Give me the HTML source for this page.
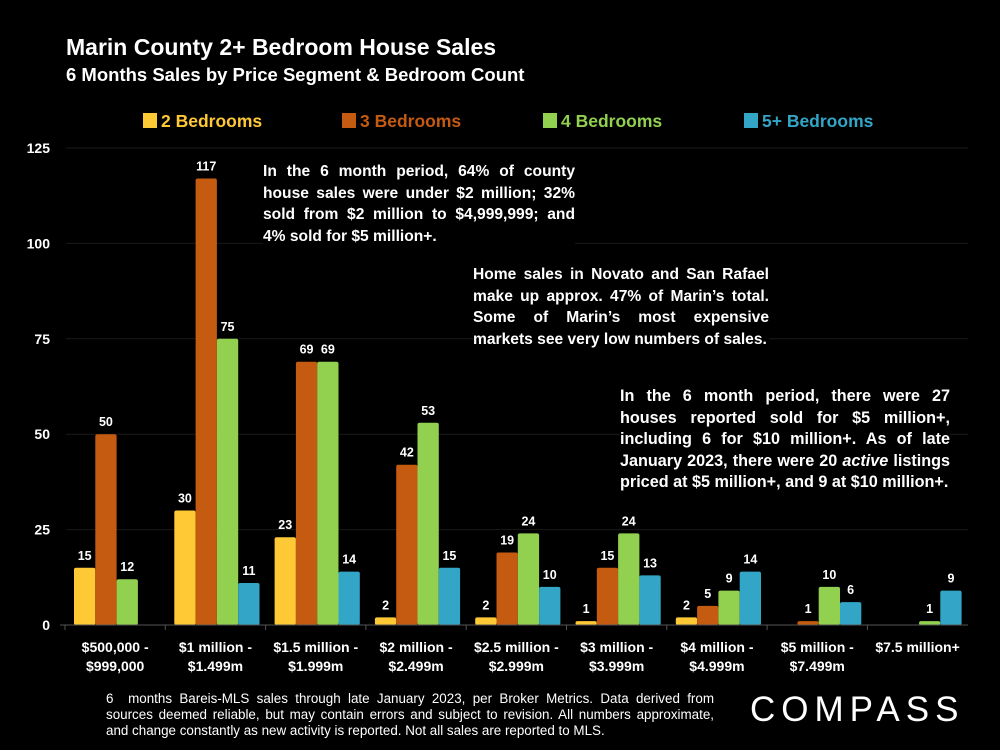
<!DOCTYPE html>
<html><head><meta charset="utf-8">
<style>
body{margin:0;background:#000;width:1000px;height:750px;overflow:hidden;font-family:"Liberation Sans",sans-serif;color:#fff}
.t{position:absolute;font-weight:bold}
.note{position:absolute;font-weight:bold;font-size:15.6px;line-height:21.5px;text-align:justify;background:#000;color:#fff}
</style></head><body>
<div class="t" style="left:66px;top:34px;font-size:23px">Marin County 2+ Bedroom House Sales</div>
<div class="t" style="left:66px;top:64px;font-size:18.5px">6 Months Sales by Price Segment &amp; Bedroom Count</div>
<svg id="c" width="1000" height="750" style="position:absolute;left:0;top:0"></svg>
<div class="note" style="left:263px;top:161px;width:312px">In the 6 month period, 64% of county house sales were under $2 million; 32% sold from $2 million to $4,999,999; and 4% sold for $5 million+.</div>
<div class="note" style="left:473px;top:264px;width:296px">Home sales in Novato and San Rafael make up approx. 47% of Marin’s total. Some of Marin’s most expensive markets see very low numbers of sales.</div>
<div class="note" style="left:620px;top:386px;width:330px;font-size:16.2px">In the 6 month period, there were 27 houses reported sold for $5 million+, including 6 for $10 million+. As of late January 2023, there were 20 <i>active</i> listings priced at $5 million+, and 9 at $10 million+.</div>
<div style="position:absolute;left:106px;top:691px;width:608px;font-size:13.4px;line-height:16px;text-align:justify">6 &nbsp;months Bareis-MLS sales through late January 2023, per Broker Metrics. Data derived from sources deemed reliable, but may contain errors and subject to revision. All numbers approximate, and change constantly as new activity is reported. Not all sales are reported to MLS.</div>
<div style="position:absolute;left:750px;top:690px;font-size:35px;letter-spacing:6px;font-weight:normal">COMPASS</div>
<script>
const categories=[["$500,000 -","$999,000"],["$1 million -","$1.499m"],["$1.5 million -","$1.999m"],["$2 million -","$2.499m"],["$2.5 million -","$2.999m"],["$3 million -","$3.999m"],["$4 million -","$4.999m"],["$5 million -","$7.499m"],["$7.5 million+"]];
const seriesNames=["2 Bedrooms","3 Bedrooms","4 Bedrooms","5+ Bedrooms"];
const br2=[15,30,23,2,2,1,2,0,0];
const br3=[50,117,69,42,19,15,5,1,0];
const br4=[12,75,69,53,24,24,9,10,1];
const br5=[0,11,14,15,10,13,14,6,9];
const yTicks=[0,25,50,75,100,125];
const colors=["#FFC935","#C55A11","#92D050","#33A6C8"];
const svg=document.getElementById('c');const NS="http://www.w3.org/2000/svg";
function mk(tag,at,txt){const e=document.createElementNS(NS,tag);for(const k in at)e.setAttribute(k,at[k]);if(txt!==undefined)e.textContent=txt;svg.appendChild(e);return e;}
const y0=625,yTop=148,yMax=125;
function y(v){return y0-(v/yMax)*(y0-yTop);}
const slot0=65,slotW=100.3,bw=21.3;
function x(i,s){return slot0+slotW*i+9+bw*s;}
yTicks.forEach(t=>{
  if(t>0){const g=mk('line',{x1:66,x2:968,y1:y(t),y2:y(t),stroke:'#1a1a1a','stroke-width':1});
  
  }
  const l=mk('text',{x:50,y:y(t)+5,'text-anchor':'end',fill:'#fff','font-size':14,'font-weight':'bold','font-family':'Liberation Sans'},t);
  
  
});
const series=[br2,br3,br4,br5];
series.forEach((arr,s)=>{arr.forEach((v,i)=>{
  if(v<=0)return;
  const r=mk('rect',{x:x(i,s),y:y(v),width:bw,height:y0-y(v),fill:colors[s],rx:2});
  
  
  const l=mk('text',{x:x(i,s)+bw/2,y:y(v)-8,'text-anchor':'middle',fill:'#fff','font-size':12.5,'font-weight':'bold','font-family':'Liberation Sans'},v);
  
  
});});
const ax=mk('line',{x1:60,x2:968,y1:y0,y2:y0,stroke:'#555','stroke-width':1});


categories.forEach((c,i)=>{
  const tk=mk('line',{x1:slot0+slotW*i,x2:slot0+slotW*i,y1:y0,y2:y0+5,stroke:'#555'});
  
  
  c.forEach((ln,j)=>{const t=mk('text',{x:slot0+slotW*i+slotW/2,y:652+j*19,'text-anchor':'middle',fill:'#fff','font-size':14,'font-weight':'bold','font-family':'Liberation Sans'},ln);
  
  });
});
const lx=[143,342,543,744];
seriesNames.forEach((n,s)=>{
  const r=mk('rect',{x:lx[s],y:113,width:14,height:15,fill:colors[s]});
  
  
  const t=mk('text',{x:lx[s]+18,y:127,fill:colors[s],'font-size':17.5,'font-weight':'bold','font-family':'Liberation Sans'},n);
  
  
});
</script>
</body></html>
